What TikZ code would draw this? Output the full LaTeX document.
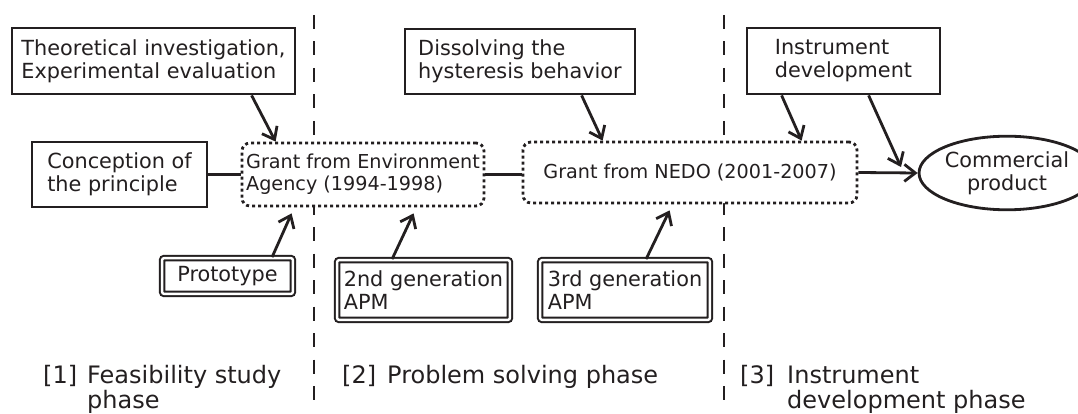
\documentclass[tikz,border=0pt]{standalone}
\usepackage{fontspec}
\setmainfont{DejaVu Sans}
\usetikzlibrary{arrows.meta,shapes.geometric}
\definecolor{ink}{RGB}{35,31,32}
\newcommand{\boxfont}{\fontsize{20.8}{23}\selectfont}
\newcommand{\grantfont}{\fontsize{19.2}{22}\selectfont}
\newcommand{\phasefont}{\fontsize{24}{23.5}\selectfont}

\begin{document}
\begin{tikzpicture}[x=1pt,y=-1pt,
  box/.style={draw=ink, fill=white, line width=2.8pt, inner sep=0pt, align=left, font=\boxfont, text=ink},
  grantbox/.style={draw=ink, fill=white, line width=2.8pt, dash pattern=on 3pt off 3pt, rounded corners=8pt,
    inner sep=0pt, align=left, font=\grantfont, text=ink},
  dbox/.style={draw=ink, fill=white, double=white, line width=2pt, double distance=2.4pt, rounded corners=2pt,
    inner sep=0pt, align=left, font=\boxfont, text=ink},
  goal/.style={ellipse, draw=ink, fill=white, line width=2.8pt, inner sep=0pt, align=center, font=\boxfont, text=ink},
  link/.style={draw=ink, line width=2.8pt},
  arr/.style={link, -{Straight Barb[length=11pt,width=17pt]}},
  phaseline/.style={draw=ink, line width=2.8pt, dash pattern=on 14pt off 12.5pt},
  phaselabel/.style={anchor=base west, inner sep=0pt, font=\phasefont, text=ink}]
\useasboundingbox (0,0) rectangle (1078,414);

% phase separators
\coordinate (s1top) at (314,15);
\coordinate (s1bot) at (314,400);
\coordinate (s2top) at (724,15);
\coordinate (s2bot) at (724,400);
\draw[phaseline] (s1top) -- (s1bot);
\draw[phaseline] (s2top) -- (s2bot);

% boxes
\node[box, minimum width=283pt, minimum height=66pt] (theo) at (153.5,61)
  {Theoretical investigation,\\Experimental evaluation};
\node[box, minimum width=230pt, minimum height=65pt] (diss) at (520,61.5)
  {Dissolving the\\hysteresis behavior};
\node[box, minimum width=193pt, minimum height=66pt] (inst) at (843.5,61)
  {Instrument\\development};
\node[box, minimum width=175pt, minimum height=65pt] (conc) at (119.5,174.5)
  {Conception of\\the principle};
\node[grantbox, minimum width=242pt, minimum height=63pt] (genv) at (363,174.5)
  {Grant from Environment\\Agency (1994-1998)};
\node[grantbox, minimum width=334pt, minimum height=61pt] (nedo) at (690,172.5)
  {Grant from NEDO (2001-2007)};
\node[goal, minimum width=135.6pt, minimum height=73.6pt] (comm) at (1007,173)
  {Commercial\\product};
\node[dbox, minimum width=130.8pt, minimum height=35.8pt] (proto) at (227.5,276)
  {Prototype};
\node[dbox, minimum width=172.8pt, minimum height=59.8pt] (gen2) at (423.5,290)
  {2nd generation\\APM};
\node[dbox, minimum width=169.8pt, minimum height=59.8pt] (gen3) at (625,290)
  {3rd generation\\APM};

% connectors
\draw[link] (conc.east) -- (genv.west);
\draw[link] (genv.east) -- (genv.east -| nedo.west);
\draw[arr] (nedo.east) -- (comm.west);
\draw[arr] ([xshift=241pt]theo.south west) -- ([xshift=35pt]genv.north west);
\draw[arr] ([xshift=178pt]diss.south west) -- ([xshift=81pt]nedo.north west);
\draw[arr] ([xshift=36pt]inst.south west) -- ([xshift=280pt]nedo.north west);
\coordinate (iend) at (901,167);
\draw[arr] ([xshift=123pt]inst.south west) -- (iend);
\draw[arr] ([xshift=111pt]proto.north west) -- ([xshift=51pt,yshift=-6pt]genv.south west);
\draw[arr] ([xshift=56pt]gen2.north west) -- ([xshift=173pt,yshift=-6pt]genv.south west);
\draw[arr] ([xshift=107pt]gen3.north west) -- ([xshift=148pt,yshift=-6pt]nedo.south west);

% phase labels
\node[phaselabel] (n1) at (43,383) {[1]};
\node[phaselabel] (t1) at (87,383) {\begin{tabular}[t]{@{}l@{}}Feasibility study\\phase\end{tabular}};
\node[phaselabel] (n2) at (342,383) {[2]};
\node[phaselabel] (t2) at (387,383) {Problem solving phase};
\node[phaselabel] (n3) at (740,383) {[3]};
\node[phaselabel] (t3) at (787,383) {\begin{tabular}[t]{@{}l@{}}Instrument\\development phase\end{tabular}};
\end{tikzpicture}
\end{document}
